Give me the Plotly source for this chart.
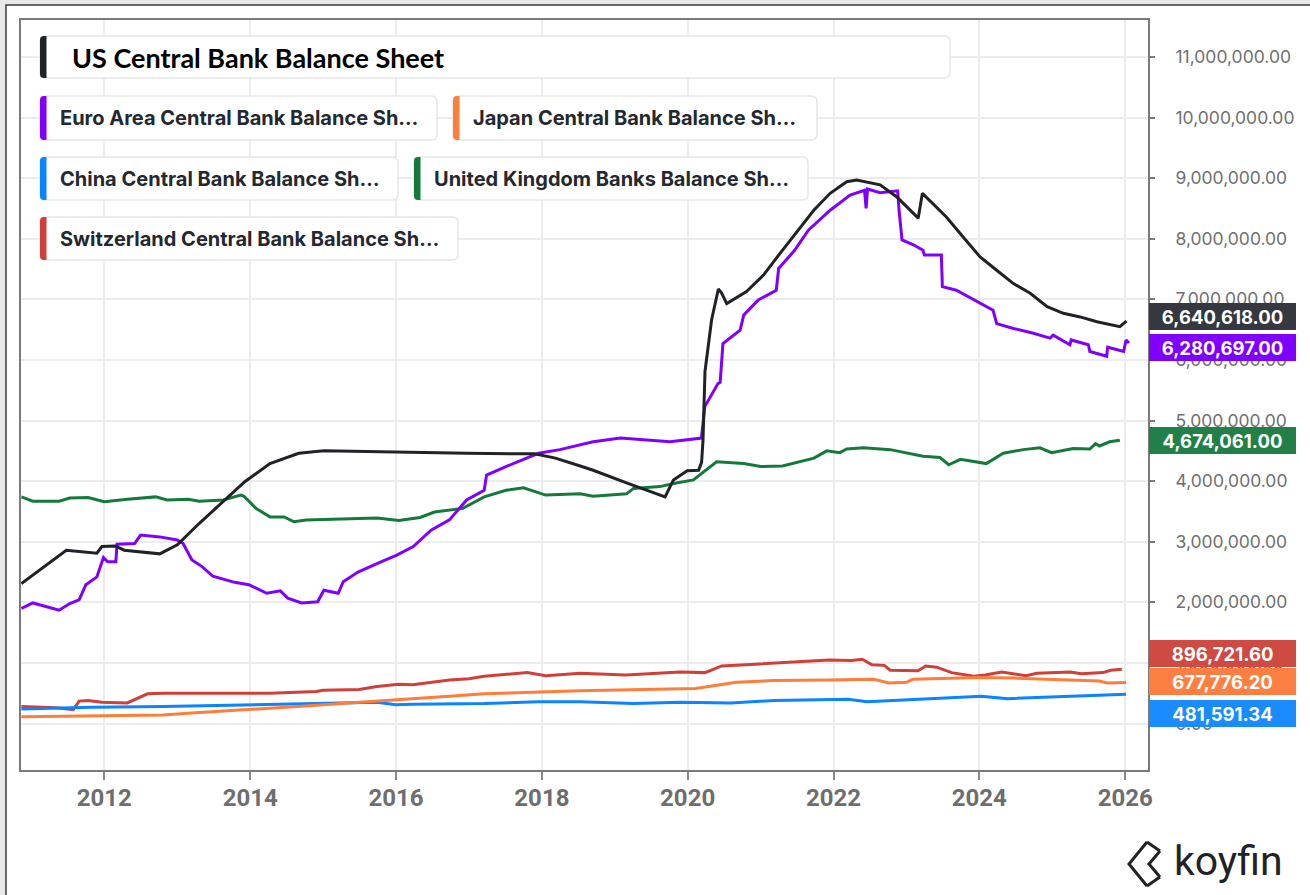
import plotly.graph_objects as go

# ---------------- data ----------------
us_dates = ["2010-11-12", "2011-01-15", "2011-06-25", "2011-11-25", "2011-12-20", "2012-02-25",
            "2012-04-10", "2012-10-05", "2013-01-01", "2013-04-20", "2013-08-05", "2013-12-05",
            "2014-04-10", "2014-09-01", "2015-01-05", "2015-12-28", "2016-12-20", "2017-11-25",
            "2018-03-10", "2018-07-12", "2018-09-15", "2019-03-01", "2019-08-15", "2019-09-10",
            "2019-10-22", "2019-12-30", "2020-02-25", "2020-03-11", "2020-03-18", "2020-03-28",
            "2020-04-30", "2020-06-03", "2020-06-20", "2020-07-15", "2020-10-22", "2021-01-15",
            "2021-04-08", "2021-07-01", "2021-09-24", "2021-12-15", "2022-03-08", "2022-04-27",
            "2022-08-22", "2022-11-14", "2023-03-01", "2023-03-22", "2023-07-20", "2023-10-12",
            "2024-01-05", "2024-03-28", "2024-06-20", "2024-09-12", "2024-12-06", "2025-02-25",
            "2025-05-20", "2025-08-12", "2025-11-03", "2025-12-05", "2026-01-07"]
us_values = [2310000, 2470000, 2860000, 2810000, 2920000, 2930000,
             2860000, 2800000, 2950000, 3300000, 3630000, 3990000,
             4290000, 4460000, 4500000, 4475000, 4460000, 4450000,
             4380000, 4250000, 4180000, 3970000, 3770000, 3740000,
             4020000, 4170000, 4180000, 4310000, 4670000, 5810000,
             6660000, 7170000, 7100000, 6930000, 7130000, 7400000,
             7760000, 8120000, 8470000, 8750000, 8940000, 8970000,
             8890000, 8690000, 8340000, 8750000, 8360000, 8030000,
             7700000, 7480000, 7260000, 7100000, 6880000, 6770000,
             6710000, 6630000, 6580000, 6550000, 6640618.00]

eu_dates = ["2010-11-12", "2011-01-08", "2011-05-20", "2011-07-12", "2011-08-28", "2011-10-01",
            "2011-11-25", "2011-12-28", "2012-01-18", "2012-02-28", "2012-03-05", "2012-06-01",
            "2012-07-01", "2012-10-05", "2013-01-01", "2013-01-30", "2013-03-15", "2013-05-05",
            "2013-06-28", "2013-10-15", "2013-12-25", "2014-03-25", "2014-06-01", "2014-07-08",
            "2014-09-15", "2014-12-05", "2015-01-05", "2015-03-18", "2015-04-12", "2015-06-25",
            "2015-09-28", "2016-01-05", "2016-03-28", "2016-06-25", "2016-09-25", "2016-12-20",
            "2017-03-18", "2017-03-30", "2017-07-05", "2017-12-15", "2018-04-01", "2018-07-10",
            "2018-09-15", "2019-01-30", "2019-10-05", "2020-03-10", "2020-03-27", "2020-06-01",
            "2020-06-12", "2020-06-26", "2020-09-20", "2020-10-08", "2020-12-20", "2021-03-20",
            "2021-04-01", "2021-06-20", "2021-08-28", "2021-12-15", "2022-03-25", "2022-06-05",
            "2022-06-13", "2022-06-20", "2022-08-22", "2022-11-18", "2022-11-25", "2022-12-10",
            "2023-02-05", "2023-03-25", "2023-04-01", "2023-06-25", "2023-06-30", "2023-09-08",
            "2023-12-08", "2024-03-10", "2024-03-28", "2024-06-20", "2024-09-28", "2024-12-20",
            "2025-01-05", "2025-03-30", "2025-04-05", "2025-06-30", "2025-07-08", "2025-09-30",
            "2025-10-05", "2025-12-24", "2026-01-05", "2026-01-20"]
eu_values = [1900000, 1990000, 1870000, 1980000, 2040000, 2290000,
             2420000, 2740000, 2670000, 2670000, 2960000, 2970000,
             3110000, 3080000, 3030000, 2970000, 2700000, 2590000,
             2430000, 2330000, 2290000, 2150000, 2190000, 2070000,
             1990000, 2010000, 2200000, 2150000, 2340000, 2500000,
             2640000, 2780000, 2920000, 3190000, 3360000, 3690000,
             3850000, 4100000, 4240000, 4460000, 4520000, 4600000,
             4650000, 4710000, 4650000, 4710000, 5230000, 5610000,
             5630000, 6270000, 6490000, 6740000, 6990000, 7150000,
             7510000, 7810000, 8140000, 8470000, 8720000, 8800000,
             8500000, 8820000, 8760000, 8790000, 8470000, 7980000,
             7900000, 7810000, 7730000, 7730000, 7210000, 7150000,
             6990000, 6820000, 6600000, 6520000, 6440000, 6360000,
             6410000, 6250000, 6330000, 6250000, 6140000, 6060000,
             6210000, 6140000, 6330000, 6280697.00]

uk_dates = ["2010-11-12", "2011-01-08", "2011-05-20", "2011-07-12", "2011-10-12", "2012-01-01",
            "2012-04-25", "2012-09-15", "2012-11-10", "2013-02-25", "2013-04-20", "2013-08-20",
            "2013-11-15", "2013-12-01", "2014-01-30", "2014-04-10", "2014-06-20", "2014-08-08",
            "2014-10-08", "2015-04-05", "2015-09-28", "2016-01-15", "2016-05-01", "2016-07-12",
            "2016-12-01", "2017-03-18", "2017-07-05", "2017-10-01", "2018-01-20", "2018-07-12",
            "2018-09-15", "2019-03-01", "2019-04-05", "2019-08-15", "2019-11-05", "2020-01-30",
            "2020-05-25", "2020-10-08", "2021-01-01", "2021-04-20", "2021-07-15", "2021-09-25",
            "2021-11-28", "2022-02-01", "2022-03-08", "2022-05-30", "2022-10-12", "2023-01-01",
            "2023-03-25", "2023-06-18", "2023-08-01", "2023-09-28", "2024-02-05", "2024-04-30",
            "2024-08-08", "2024-10-30", "2024-12-28", "2025-04-15", "2025-07-08", "2025-08-05",
            "2025-08-25", "2025-10-15", "2025-12-05"]
uk_values = [3740000, 3670000, 3670000, 3720000, 3730000, 3660000,
             3700000, 3740000, 3690000, 3700000, 3670000, 3690000,
             3770000, 3750000, 3550000, 3410000, 3410000, 3330000,
             3360000, 3370000, 3390000, 3350000, 3400000, 3490000,
             3550000, 3740000, 3850000, 3890000, 3770000, 3790000,
             3750000, 3790000, 3880000, 3910000, 3970000, 4020000,
             4320000, 4290000, 4240000, 4250000, 4320000, 4380000,
             4500000, 4470000, 4530000, 4550000, 4520000, 4460000,
             4410000, 4390000, 4270000, 4360000, 4290000, 4460000,
             4520000, 4550000, 4470000, 4540000, 4530000, 4620000,
             4580000, 4650000, 4674061.00]

ch_dates = ["2010-11-12", "2011-05-05", "2011-07-30", "2011-08-28", "2011-10-12", "2011-12-20",
            "2012-04-25", "2012-08-05", "2012-10-22", "2013-04-20", "2013-06-18", "2014-04-10",
            "2014-11-28", "2015-01-01", "2015-07-01", "2015-09-28", "2016-01-15", "2016-03-25",
            "2016-09-25", "2017-01-01", "2017-03-18", "2017-10-20", "2018-01-20", "2018-07-12",
            "2019-02-25", "2019-11-25", "2020-03-28", "2020-06-20", "2020-12-05", "2021-06-10",
            "2021-12-10", "2022-04-01", "2022-05-25", "2022-07-12", "2022-09-12", "2022-10-12",
            "2023-02-28", "2023-04-08", "2023-06-01", "2023-08-15", "2023-12-05", "2024-01-30",
            "2024-04-22", "2024-08-22", "2024-10-15", "2025-04-01", "2025-05-25", "2025-09-12",
            "2025-10-20", "2025-12-15"]
ch_values = [280000, 260000, 230000, 370000, 380000, 350000,
             340000, 490000, 500000, 500000, 490000, 500000,
             530000, 550000, 560000, 610000, 650000, 640000,
             720000, 740000, 780000, 840000, 790000, 830000,
             800000, 850000, 840000, 950000, 980000, 1020000,
             1050000, 1040000, 1060000, 970000, 960000, 880000,
             870000, 950000, 930000, 840000, 780000, 800000,
             850000, 790000, 830000, 850000, 820000, 840000,
             880000, 896721.60]

jp_dates = ["2010-11-12", "2011-10-30", "2012-10-22", "2013-04-20", "2014-01-12", "2014-10-08",
            "2015-07-01", "2016-01-15", "2016-09-25", "2017-03-18", "2017-12-15", "2018-07-12",
            "2019-05-25", "2020-02-10", "2020-09-01", "2021-03-08", "2021-12-10", "2022-07-20",
            "2022-10-05", "2023-01-01", "2023-02-01", "2023-06-20", "2023-12-25", "2024-06-25",
            "2024-12-28", "2025-04-01", "2025-08-25", "2025-10-01", "2026-01-05"]
jp_values = [110000, 130000, 140000, 180000, 230000, 290000,
             350000, 390000, 450000, 490000, 520000, 540000,
             560000, 580000, 680000, 710000, 720000, 730000,
             670000, 680000, 730000, 740000, 760000, 750000,
             730000, 710000, 700000, 670000, 677776.20]

cn_dates = ["2010-11-12", "2011-10-30", "2012-10-22", "2014-01-12", "2015-04-05", "2015-09-28",
            "2016-01-01", "2016-03-25", "2017-03-18", "2017-12-15", "2018-07-12", "2019-04-05",
            "2019-11-25", "2020-08-05", "2021-03-08", "2022-03-15", "2022-06-18", "2023-03-18",
            "2024-01-12", "2024-05-22", "2024-12-28", "2025-05-25", "2026-01-05"]
cn_values = [240000, 270000, 280000, 310000, 350000, 350000,
             310000, 320000, 330000, 360000, 360000, 330000,
             350000, 340000, 380000, 400000, 360000, 400000,
             450000, 410000, 440000, 460000, 481591.34]

series_names = ["Switzerland Central Bank Balance Sheet", "China Central Bank Balance Sheet",
                "Japan Central Bank Balance Sheet", "United Kingdom Banks Balance Sheet",
                "Euro Area Central Bank Balance Sheet", "US Central Bank Balance Sheet"]
series_dates = [ch_dates, cn_dates, jp_dates, uk_dates, eu_dates, us_dates]
series_values = [ch_values, cn_values, jp_values, uk_values, eu_values, us_values]
series_colors = ["#cf4038", "#0a84ff", "#ff7d3b", "#137a3b", "#8000ff", "#1f2226"]

legend_labels = ["US Central Bank Balance Sheet",
                 "Euro Area Central Bank Balance Sh\u2026",
                 "Japan Central Bank Balance Sh\u2026",
                 "China Central Bank Balance Sh\u2026",
                 "United Kingdom Banks Balance Sh\u2026",
                 "Switzerland Central Bank Balance Sh\u2026"]
legend_colors = ["#1f2226", "#8000ff", "#ff7d3b", "#0a84ff", "#137a3b", "#cf4038"]

y_tickvals = [i * 1000000 for i in range(0, 12)]
x_tickvals = ["2012-01-01", "2014-01-01", "2016-01-01", "2018-01-01",
              "2020-01-01", "2022-01-01", "2024-01-01", "2026-01-01"]
x_ticktext = ["2012", "2014", "2016", "2018", "2020", "2022", "2024", "2026"]

# ---------------- layout geometry (pixels) ----------------
W, H = 1310, 895
PL, PR, PT, PB = 21, 1148, 20, 770


def px(x):
    return (x - PL) / (PR - PL)


def py(y):
    return (PB - y) / (PB - PT)


def rr_path(x0, y0, x1, y1, rl, rr):
    def P(x, y):
        return f"{px(x):.5f},{py(y):.5f}"
    s = [f"M {P(x0 + rl, y0)}", f"L {P(x1 - rr, y0)}"]
    if rr:
        s.append(f"Q {P(x1, y0)} {P(x1, y0 + rr)}")
    s.append(f"L {P(x1, y1 - rr)}")
    if rr:
        s.append(f"Q {P(x1, y1)} {P(x1 - rr, y1)}")
    s.append(f"L {P(x0 + rl, y1)}")
    if rl:
        s.append(f"Q {P(x0, y1)} {P(x0, y1 - rl)}")
    s.append(f"L {P(x0, y0 + rl)}")
    if rl:
        s.append(f"Q {P(x0, y0)} {P(x0 + rl, y0)}")
    s.append("Z")
    return " ".join(s)


fig = go.Figure()
for name, d, v, c in zip(series_names, series_dates, series_values, series_colors):
    fig.add_trace(go.Scatter(x=d, y=v, mode="lines", name=name,
                             line=dict(color=c, width=3), showlegend=False,
                             hoverinfo="skip"))

shapes = []
annotations = []

# outer frame
shapes.append(dict(type="rect", xref="paper", yref="paper",
                   x0=px(6), x1=px(1330), y0=py(5), y1=py(915),
                   line=dict(color="#3a3a3a", width=1.5), fillcolor="white", layer="below"))

# legend boxes
legend_boxes = [(40, 36, 950, 78), (40, 96, 437, 140), (453, 96, 817, 140),
                (40, 157, 398, 200), (414, 157, 808, 200), (40, 217, 458, 260)]
for i, ((x0, y0, x1, y1), lab, col) in enumerate(zip(legend_boxes, legend_labels, legend_colors)):
    shapes.append(dict(type="path", xref="paper", yref="paper",
                       path=rr_path(x0, y0, x1, y1, 6, 6),
                       line=dict(color="#e6e6e6", width=1.5), fillcolor="white", layer="above"))
    shapes.append(dict(type="path", xref="paper", yref="paper",
                       path=rr_path(x0, y0, x0 + 6.5, y1, 4, 0),
                       line=dict(width=0), fillcolor=col, layer="above"))
    if i == 0:
        annotations.append(dict(xref="paper", yref="paper", x=px(70), y=py((y0 + y1) / 2),
                                xanchor="left", yanchor="middle", showarrow=False, text=lab,
                                font=dict(family="Lato, Open Sans, sans-serif", size=27,
                                          color="#000000", weight=700)))
    else:
        annotations.append(dict(xref="paper", yref="paper", x=px(x0 + 18), y=py((y0 + y1) / 2),
                                xanchor="left", yanchor="middle", showarrow=False, text=lab,
                                font=dict(family="Inter, Roboto, sans-serif", size=20,
                                          color="#24282f", weight=700)))

# end-value labels on the right axis
label_order = [5, 4, 3, 0, 2, 1]
label_shift = {5: 4.7, 4: -4.6, 3: 0.0, 0: 16.0, 2: 1.4, 1: -18.8}
label_bg = {5: "#35383e", 4: "#8000ff", 3: "#218048", 0: "#cf4a43", 2: "#fd7f42", 1: "#1a8cff"}
for k in label_order:
    last = series_values[k][-1]
    annotations.append(dict(xref="paper", yref="y", x=1, y=last, xshift=1,
                            yshift=label_shift[k], xanchor="left", yanchor="middle",
                            showarrow=False, text=f"{last:,.2f}", align="center",
                            width=143, height=23, borderpad=2, borderwidth=0,
                            bgcolor=label_bg[k],
                            font=dict(family="Inter, Roboto, sans-serif", size=18.5,
                                      color="white", weight=700)))

# koyfin logo
annotations.append(dict(xref="paper", yref="paper", x=px(1172), y=py(861),
                        xanchor="left", yanchor="middle", showarrow=False, text="koyfin",
                        font=dict(family="Roboto, sans-serif", size=41, color="#1f2226")))
logo_path = ("M {a} L {b} L {c} M {d} L {e} L {f} M {a} L {g} M {c} L {h}").format(
    a=f"{px(1147):.5f},{py(842):.5f}", b=f"{px(1129):.5f},{py(864):.5f}",
    c=f"{px(1147):.5f},{py(886):.5f}", d=f"{px(1160):.5f},{py(851):.5f}",
    e=f"{px(1149):.5f},{py(864):.5f}", f=f"{px(1160):.5f},{py(877):.5f}",
    g=f"{px(1160):.5f},{py(851):.5f}", h=f"{px(1160):.5f},{py(877):.5f}")
shapes.append(dict(type="path", xref="paper", yref="paper", path=logo_path,
                   line=dict(color="#1f2226", width=3), layer="above"))

fig.update_layout(
    width=W, height=H,
    margin=dict(l=PL, r=W - PR, t=PT, b=H - PB, pad=0),
    paper_bgcolor="#e8e8e8",
    plot_bgcolor="white",
    showlegend=False,
    shapes=shapes,
    annotations=annotations,
    xaxis=dict(type="date", range=["2010-11-10", "2026-04-25"],
               tickvals=x_tickvals, ticktext=x_ticktext,
               showgrid=True, gridcolor="#ececec", gridwidth=1.5,
               showline=True, linecolor="#7a7a7a", linewidth=2, mirror=True,
               ticks="outside", ticklen=8, tickwidth=1.5, tickcolor="#8a8a8a",
               ticklabelstandoff=-3,
               tickfont=dict(family="Roboto, sans-serif", size=24, color="#6e6e6e", weight=700),
               zeroline=False, fixedrange=True),
    yaxis=dict(side="right", range=[-767000, 11610000],
               tickvals=y_tickvals, tickformat=",.2f",
               showgrid=True, gridcolor="#ececec", gridwidth=1.5,
               showline=True, linecolor="#7a7a7a", linewidth=2, mirror=True,
               ticks="outside", ticklen=5, tickwidth=2, tickcolor="#7a7a7a",
               ticklabelstandoff=17,
               tickfont=dict(family="Inter, Roboto, sans-serif", size=17.5, color="#6f6f6f"),
               zeroline=False, fixedrange=True),
)

fig.write_html("out.html", config={"displayModeBar": False},
               post_script="document.body.style.margin='0';document.body.style.overflow='hidden';")
